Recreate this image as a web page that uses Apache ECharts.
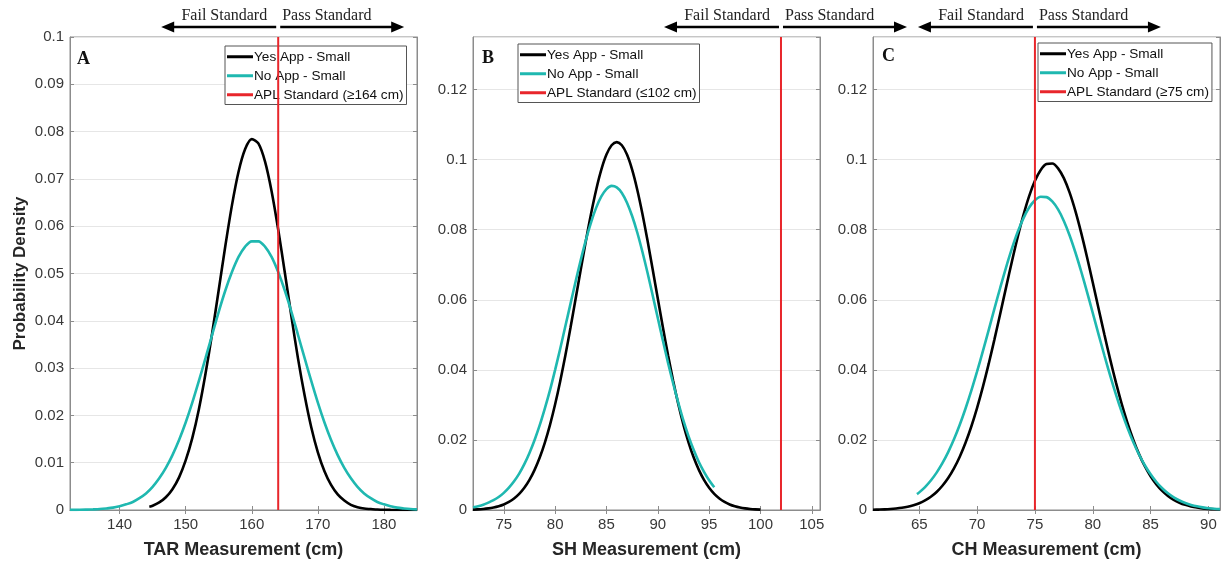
<!DOCTYPE html>
<html>
<head>
<meta charset="utf-8">
<script src="https://cdn.jsdelivr.net/npm/echarts@6/dist/echarts.min.js"></script>
<style>html,body{margin:0;padding:0;background:#fff}#c{width:1225px;height:565px}</style>
</head>
<body>
<div id="c"></div>
<script>
// ---------- DATA ----------
const seriesNames = ['Yes App - Small', 'No App - Small'];
const standardNames = ['APL Standard (\u2265164 cm)', 'APL Standard (\u2264102 cm)', 'APL Standard (\u226575 cm)'];
const standardValues = [164, 102, 75];
const panelLetters = ['A', 'B', 'C'];
const xAxisNames = ['TAR Measurement (cm)', 'SH Measurement (cm)', 'CH Measurement (cm)'];
const xRanges = [[132.5, 185], [72, 105.8], [61, 91]];
const xTicks = [[140, 150, 160, 170, 180], [75, 80, 85, 90, 95, 100, 105], [65, 70, 75, 80, 85, 90]];
const yMaxes = [0.1, 0.135, 0.135];
const yIntervals = [0.01, 0.02, 0.02];

// Panel A (TAR)
const aYesX = [144.5,145,146,147,148,149,150,151,152,153,154,155,156,157,158,159,160,161,162,163,164,165,166,167,168,169,170,171,172,173,174,175,176,177,178,179,180,181,182,183,184,185];
const aYesY = [0.0007,0.0009,0.0016,0.0027,0.0044,0.0069,0.0105,0.0152,0.0213,0.0288,0.0373,0.0465,0.0558,0.0644,0.0715,0.0763,0.0784,0.0775,0.0737,0.0674,0.0593,0.0502,0.0409,0.0320,0.0242,0.0175,0.0122,0.0082,0.0053,0.0033,0.0020,0.0011,0.0006,0.0003,0.0002,0.0001,0.00004,0.00002,0.00001,0,0,0];
const aNoX = [132.5,133,134,135,136,137,138,139,140,141,142,143,144,145,146,147,148,149,150,151,152,153,154,155,156,157,158,159,160,161,162,163,164,165,166,167,168,169,170,171,172,173,174,175,176,177,178,179,180,181,182,183,184,185];
const aNoY = [0.00002,0.00003,0.00004,0.00008,0.00013,0.0002,0.00033,0.0005,0.0008,0.0012,0.0017,0.0025,0.0035,0.0049,0.0067,0.0089,0.0116,0.0148,0.0185,0.0227,0.0273,0.0321,0.0370,0.0419,0.0464,0.0503,0.0535,0.0557,0.0568,0.0568,0.0557,0.0535,0.0503,0.0464,0.0419,0.0370,0.0321,0.0273,0.0227,0.0185,0.0148,0.0116,0.0089,0.0067,0.0049,0.0035,0.0025,0.0017,0.0012,0.0008,0.0005,0.00033,0.0002,0.00013];

// Panel B (SH)
const bYesX = [72,72.5,73,73.5,74,74.5,75,75.5,76,76.5,77,77.5,78,78.5,79,79.5,80,80.5,81,81.5,82,82.5,83,83.5,84,84.5,85,85.5,86,86.5,87,87.5,88,88.5,89,89.5,90,90.5,91,91.5,92,92.5,93,93.5,94,94.5,95,95.5,96,96.5,97,97.5,98,98.5,99,99.5,100];
const bYesY = [0.00012,0.00019,0.0003,0.00047,0.00072,0.00108,0.00159,0.00231,0.00329,0.00461,0.00635,0.0086,0.01145,0.01497,0.01925,0.02432,0.03019,0.03684,0.04418,0.05208,0.06034,0.0687,0.07689,0.08457,0.09142,0.09713,0.10143,0.1041,0.105,0.1041,0.10143,0.09713,0.09142,0.08457,0.07689,0.0687,0.06034,0.05208,0.04418,0.03684,0.03019,0.02432,0.01925,0.01497,0.01145,0.0086,0.00635,0.00461,0.00329,0.00231,0.00159,0.00108,0.00072,0.00047,0.0003,0.00019,0.00012];
const bNoX = [72,72.5,73,73.5,74,74.5,75,75.5,76,76.5,77,77.5,78,78.5,79,79.5,80,80.5,81,81.5,82,82.5,83,83.5,84,84.5,85,85.5,86,86.5,87,87.5,88,88.5,89,89.5,90,90.5,91,91.5,92,92.5,93,93.5,94,94.5,95,95.5];
const bNoY = [0.0008,0.0011,0.0015,0.0021,0.0028,0.0037,0.0049,0.0064,0.0082,0.0104,0.0131,0.0163,0.02,0.0242,0.029,0.0342,0.04,0.0461,0.0525,0.0589,0.0653,0.0714,0.0771,0.0821,0.0863,0.0895,0.0916,0.0925,0.0921,0.0905,0.0877,0.0839,0.0792,0.0737,0.0677,0.0613,0.0548,0.0483,0.042,0.0361,0.0306,0.0255,0.021,0.0171,0.0137,0.0109,0.0085,0.0065];

// Panel C (CH)
const cYesX = [61,61.5,62,62.5,63,63.5,64,64.5,65,65.5,66,66.5,67,67.5,68,68.5,69,69.5,70,70.5,71,71.5,72,72.5,73,73.5,74,74.5,75,75.5,76,76.5,77,77.5,78,78.5,79,79.5,80,80.5,81,81.5,82,82.5,83,83.5,84,84.5,85,85.5,86,86.5,87,87.5,88,88.5,89,89.5,90,90.5,91];
const cYesY = [0.00007,0.00012,0.00018,0.00028,0.00043,0.00064,0.00094,0.00136,0.00194,0.00273,0.00378,0.00514,0.00691,0.00912,0.01187,0.01521,0.01919,0.02384,0.02917,0.03514,0.04169,0.0487,0.05603,0.06347,0.0708,0.07777,0.08412,0.0896,0.09398,0.09707,0.09873,0.09888,0.09752,0.09471,0.09057,0.0853,0.0791,0.07223,0.06495,0.05751,0.05015,0.04306,0.03641,0.03031,0.02486,0.02007,0.01595,0.01249,0.00963,0.00731,0.00546,0.00402,0.00292,0.00208,0.00146,0.00101,0.00069,0.00046,0.00031,0.0002,0.00013];
const cNoX = [64.8,65,65.5,66,66.5,67,67.5,68,68.5,69,69.5,70,70.5,71,71.5,72,72.5,73,73.5,74,74.5,75,75.5,76,76.5,77,77.5,78,78.5,79,79.5,80,80.5,81,81.5,82,82.5,83,83.5,84,84.5,85,85.5,86,86.5,87,87.5,88,88.5,89,89.5,90,90.5,91];
const cNoY = [0.00452,0.00503,0.00655,0.00841,0.01066,0.01335,0.01651,0.02016,0.02431,0.02896,0.03405,0.03955,0.04535,0.05136,0.05745,0.06344,0.06919,0.07451,0.07925,0.08323,0.08632,0.0884,0.08941,0.0893,0.08807,0.08578,0.0825,0.07836,0.07349,0.06807,0.06225,0.05623,0.05015,0.04417,0.03842,0.033,0.02799,0.02344,0.01939,0.01584,0.01278,0.01018,0.008,0.00622,0.00477,0.00361,0.0027,0.002,0.00146,0.00105,0.00075,0.00052,0.00036,0.00025];

const yesData = [[aYesX, aYesY], [bYesX, bYesY], [cYesX, cYesY]];
const noData = [[aNoX, aNoY], [bNoX, bNoY], [cNoX, cNoY]];

// ---------- STYLE / LAYOUT ----------
const gridLefts = [70, 473, 873];
const gridTop = 37, gridW = 347, gridH = 473;
const legendPos = [[225, 46], [518, 44], [1038, 43]];
const letterPos = [[77, 50], [482, 49], [882, 47]];
const BLACK = '#000000', CYAN = '#1fb8b0', RED = '#e8262b';
const AXC = '#8c8c8c';
const sans = 'Liberation Sans, Arial, sans-serif';
const serif = 'Liberation Serif, Times New Roman, serif';

const zip = (xs, ys) => xs.map((x, i) => [x, ys[i]]);

const grids = [], xAxes = [], yAxes = [], series = [], legends = [], titles = [];
for (let p = 0; p < 3; p++) {
  grids.push({ left: gridLefts[p], top: gridTop, width: gridW, height: gridH, show: true, borderColor: AXC, borderWidth: 1, backgroundColor: '#fff' });
  const baseX = {
    type: 'value', gridIndex: p, min: xRanges[p][0], max: xRanges[p][1],
    axisLine: { show: true, lineStyle: { color: AXC, width: 1 } },
    axisTick: { show: true, inside: true, length: 4, lineStyle: { color: AXC }, customValues: xTicks[p] },
    splitLine: { show: false }
  };
  xAxes.push(Object.assign({}, baseX, {
    position: 'bottom', name: xAxisNames[p], nameLocation: 'middle', nameGap: 31,
    nameTextStyle: { fontFamily: sans, fontWeight: 'bold', fontSize: 18, color: '#262626' },
    axisLabel: { show: true, customValues: xTicks[p], fontFamily: sans, fontSize: 15, color: '#383838', margin: 7 }
  }));
  xAxes.push(Object.assign({}, baseX, { position: 'top', axisLabel: { show: false } }));
  const baseY = {
    type: 'value', gridIndex: p, min: 0, max: yMaxes[p], interval: yIntervals[p],
    axisLine: { show: true, lineStyle: { color: AXC, width: 1 } },
    axisTick: { show: true, inside: true, length: 4, lineStyle: { color: AXC } }
  };
  yAxes.push(Object.assign({}, baseY, {
    position: 'left',
    name: p === 0 ? 'Probability Density' : '', nameLocation: 'middle', nameGap: 41,
    nameTextStyle: { fontFamily: sans, fontWeight: 'bold', fontSize: 17, color: '#262626' },
    splitLine: { show: true, lineStyle: { color: '#e6e6e6', width: 1 } },
    axisLabel: { show: true, fontFamily: sans, fontSize: 15, color: '#383838', margin: 6, showMaxLabel: p === 0,
      formatter: v => String(+v.toFixed(4)) }
  }));
  yAxes.push(Object.assign({}, baseY, { position: 'right', axisLabel: { show: false }, splitLine: { show: false } }));

  const xi = p * 2, yi = p * 2;
  series.push({ name: seriesNames[0], type: 'line', xAxisIndex: xi, yAxisIndex: yi, data: zip(yesData[p][0], yesData[p][1]),
    smooth: 0.3, showSymbol: false, symbol: 'none', lineStyle: { color: BLACK, width: 2.6 }, itemStyle: { color: BLACK }, z: 3, silent: true });
  series.push({ name: seriesNames[1], type: 'line', xAxisIndex: xi, yAxisIndex: yi, data: zip(noData[p][0], noData[p][1]),
    smooth: 0.3, showSymbol: false, symbol: 'none', lineStyle: { color: CYAN, width: 2.6 }, itemStyle: { color: CYAN }, z: 4, silent: true });
  series.push({ name: standardNames[p], type: 'line', xAxisIndex: xi, yAxisIndex: yi,
    data: [[standardValues[p], 0], [standardValues[p], yMaxes[p]]],
    showSymbol: false, symbol: 'none', lineStyle: { color: RED, width: 2 }, itemStyle: { color: RED }, z: 5, silent: true });

  legends.push({
    orient: 'vertical', left: legendPos[p][0], top: legendPos[p][1],
    itemWidth: 26, itemHeight: 3, itemGap: 3.5, padding: [3, 3, 2, 2],
    borderColor: '#555', borderWidth: 1, backgroundColor: '#fff', selectedMode: false,
    textStyle: { fontFamily: sans, fontSize: 13.6, color: '#111', lineHeight: 15.5, padding: [0, 0, 0, -4] },
    data: [seriesNames[0], seriesNames[1], standardNames[p]].map(n => ({ name: n, icon: 'rect' }))
  });
  titles.push({ text: panelLetters[p], left: letterPos[p][0], top: letterPos[p][1], padding: 0,
    textStyle: { fontFamily: serif, fontWeight: 'bold', fontSize: 18, color: '#111' } });
}

const chart = echarts.init(document.getElementById('c'), null, { renderer: 'canvas' });
chart.setOption({
  animation: false, backgroundColor: '#fff',
  title: titles, grid: grids, xAxis: xAxes, yAxis: yAxes, legend: legends, series: series
});

// Fail / Pass annotations anchored on the standard line of each panel
const graphics = [];
for (let p = 0; p < 3; p++) {
  const px = chart.convertToPixel({ xAxisIndex: p * 2, yAxisIndex: p * 2 }, [standardValues[p], 0])[0];
  const ay = 27, txtY = 16;
  const lTip = px - 117, rTip = px + 126;
  graphics.push(
    { type: 'line', shape: { x1: px - 2, y1: ay, x2: lTip + 9, y2: ay }, style: { stroke: '#000', lineWidth: 2.6 } },
    { type: 'polygon', shape: { points: [[lTip, ay], [lTip + 13, ay - 5.5], [lTip + 13, ay + 5.5]] }, style: { fill: '#000' } },
    { type: 'line', shape: { x1: px + 2, y1: ay, x2: rTip - 9, y2: ay }, style: { stroke: '#000', lineWidth: 2.6 } },
    { type: 'polygon', shape: { points: [[rTip, ay], [rTip - 13, ay - 5.5], [rTip - 13, ay + 5.5]] }, style: { fill: '#000' } },
    { type: 'text', x: px - 11, y: txtY, style: { text: 'Fail Standard', font: '16px ' + serif, fill: '#222', align: 'right', verticalAlign: 'middle' } },
    { type: 'text', x: px + 4, y: txtY, style: { text: 'Pass Standard', font: '16px ' + serif, fill: '#222', align: 'left', verticalAlign: 'middle' } }
  );
}
chart.setOption({ graphic: graphics });
</script>
</body>
</html>
